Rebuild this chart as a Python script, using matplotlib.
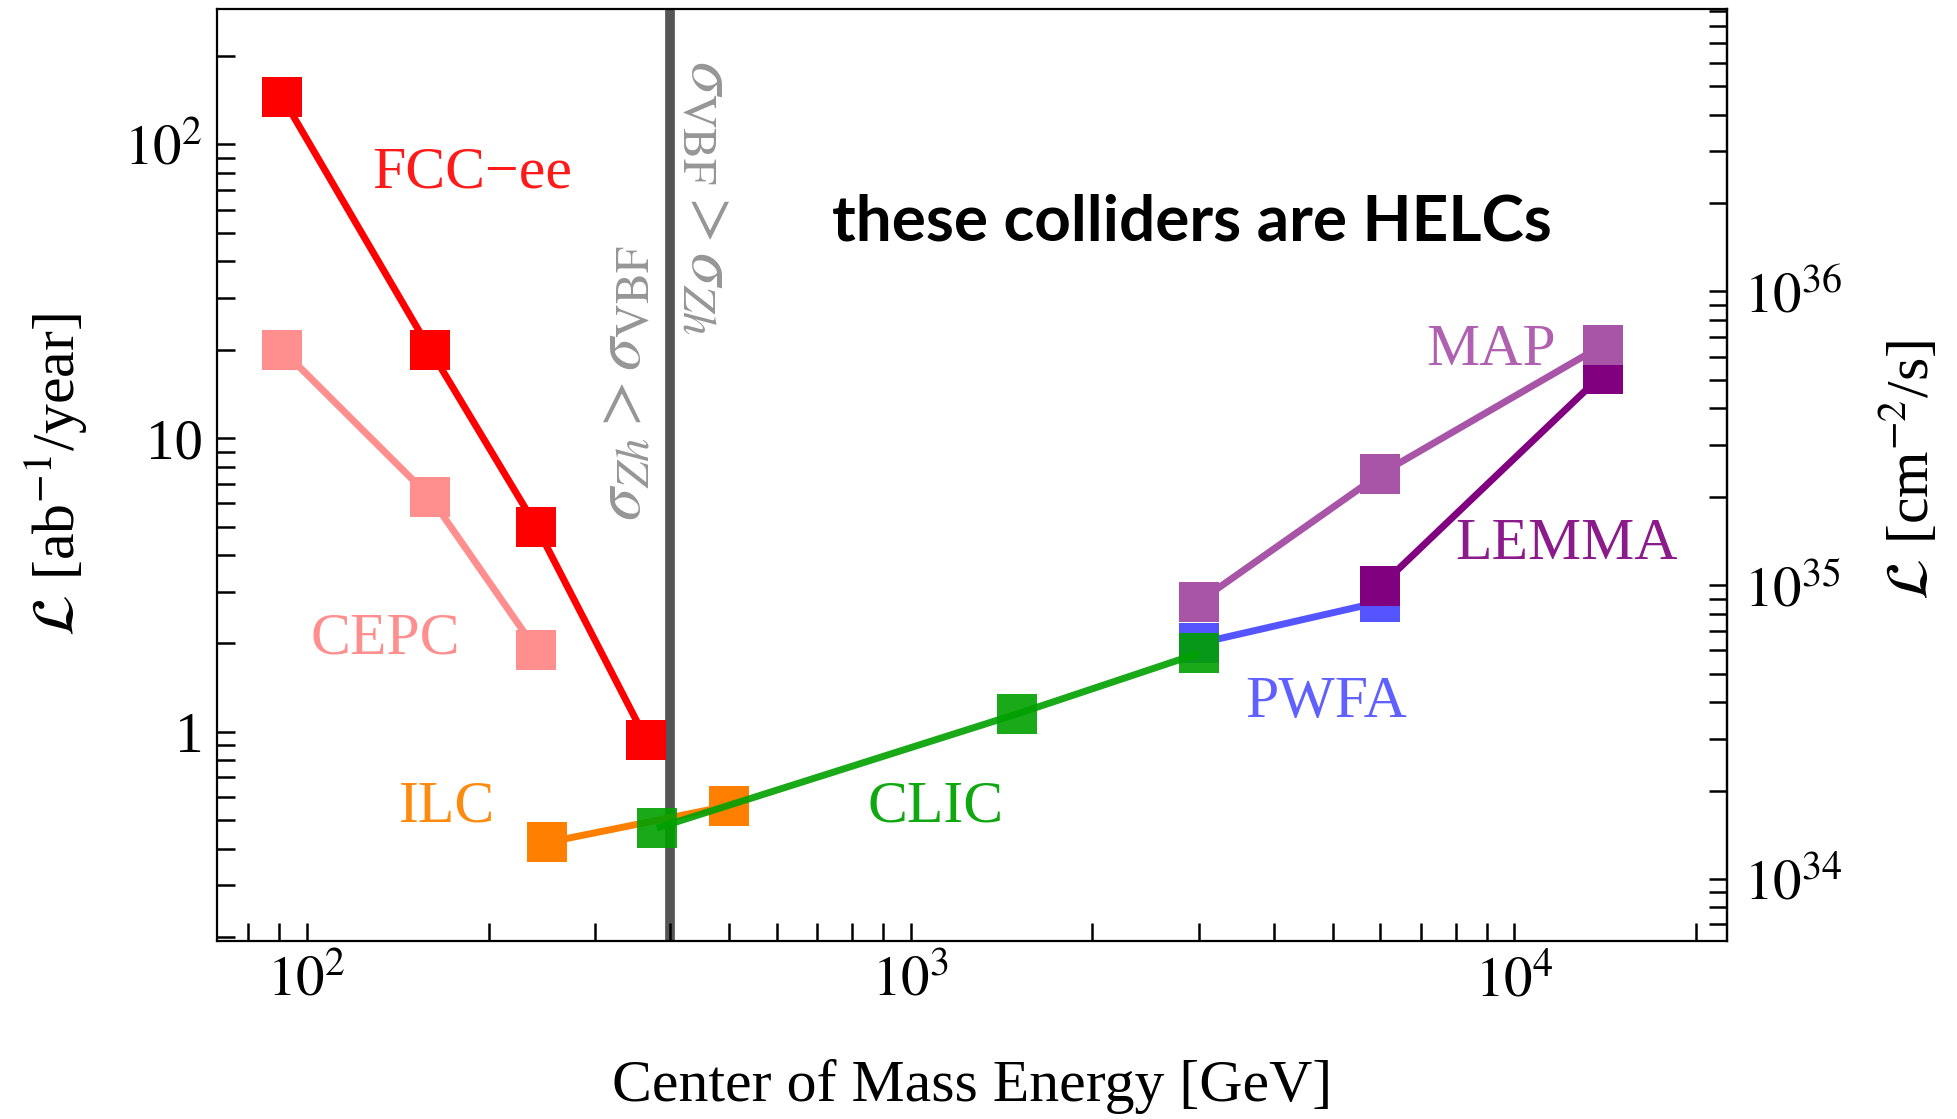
import math
import matplotlib
matplotlib.use("Agg")
import matplotlib.pyplot as plt
from matplotlib.ticker import LogLocator, FuncFormatter, NullFormatter, FixedLocator

plt.rcParams['font.family'] = ['Liberation Serif', 'DejaVu Serif']
plt.rcParams['mathtext.fontset'] = 'stix'

# ---- data (center-of-mass energy [GeV], luminosity [ab^-1/year]) ----
fcc_x = [91, 160, 240, 365]
fcc_y = [145, 20, 5.0, 0.94]

cepc_x = [91, 160, 240]
cepc_y = [20, 6.3, 1.9]

ilc_x = [250, 500]
ilc_y = [0.42, 0.56]

clic_x = [380, 1500, 3000]
clic_y = [0.47, 1.15, 1.85]

pwfa_x = [3000, 6000]
pwfa_y = [2.0, 2.77]

lemma_x = [6000, 14000]
lemma_y = [3.13, 16.5]

map_x = [3000, 6000, 14000]
map_y = [2.77, 7.55, 20.7]

threshold_x = 400  # sigma_Zh = sigma_VBF crossing

x_ticks = [1e2, 1e3, 1e4]
y_ticks = [1, 10, 100]
y_ticklabels = ['1', '10', r'$10^{2}$']
r_ticks = [1e34, 1e35, 1e36]

xlim = (71, 22500)
ylim = (0.194, 289)
conv = 1e42 / 3.156e7  # ab^-1/year -> cm^-2/s

fig = plt.figure(figsize=(19.57, 11.19), dpi=100)
ax = fig.add_axes([217/1957, 1 - 941/1119, 1510/1957, 932/1119])
ax.set_xscale('log')
ax.set_yscale('log')
ax.set_xlim(*xlim)
ax.set_ylim(*ylim)

ax.axvline(threshold_x, color='#555555', lw=7, zorder=1)

ms = 28.8
lw = 5
kw = dict(marker='s', ms=ms, mew=0, lw=lw, solid_capstyle='butt')
ax.plot(fcc_x, fcc_y, color='#FF0000', zorder=3, **kw)
ax.plot(cepc_x, cepc_y, color='#FF8F8F', zorder=2, **kw)
ax.plot(ilc_x, ilc_y, color='#FF8000', zorder=3, **kw)
ax.plot(pwfa_x, pwfa_y, color='#5555FF', zorder=3, **kw)
ax.plot(lemma_x, lemma_y, color='#800080', zorder=4, **kw)
ax.plot(map_x, map_y, color='#A855A8', zorder=5, **kw)
ax.plot(clic_x, clic_y, color='#00A000', alpha=0.9, zorder=6, **kw)

# ---- ticks ----
fs_tick = 41
tkw = dict(which='both', direction='in', length=13, width=1.8)
ax.tick_params(axis='x', top=False, pad=10, labelsize=fs_tick, **tkw)
ax.tick_params(axis='y', right=False, pad=10, labelsize=fs_tick, **tkw)
ax.xaxis.set_major_locator(FixedLocator(x_ticks))
ax.xaxis.set_major_formatter(FuncFormatter(lambda v, p: r'$10^{%d}$' % round(math.log10(v))))
ax.xaxis.set_minor_locator(LogLocator(base=10, subs=range(2, 10), numticks=20))
ax.xaxis.set_minor_formatter(NullFormatter())
ax.yaxis.set_major_locator(FixedLocator(y_ticks))
ax.set_yticklabels(y_ticklabels)
ax.yaxis.set_minor_locator(LogLocator(base=10, subs=range(2, 10), numticks=20))
ax.yaxis.set_minor_formatter(NullFormatter())

for s in ax.spines.values():
    s.set_linewidth(1.6)

sec = ax.secondary_yaxis('right', functions=(lambda y: y * conv, lambda y: y / conv))
sec.tick_params(which='both', direction='in', length=13, width=1.8, pad=12, labelsize=fs_tick)
sec.yaxis.set_major_locator(FixedLocator(r_ticks))
sec.yaxis.set_major_formatter(FuncFormatter(lambda v, p: r'$10^{%d}$' % round(math.log10(v))))
sec.yaxis.set_minor_locator(LogLocator(base=10, subs=range(2, 10), numticks=20))
sec.yaxis.set_minor_formatter(NullFormatter())
sec.spines['right'].set_linewidth(1.6)

# ---- axis labels ----
fs = 43
ax.text(0.5, -0.1556, 'Center of Mass Energy [GeV]', transform=ax.transAxes,
        ha='center', va='center', fontsize=fs)
ax.text(-0.107, 0.5, r'$\mathcal{L}$ [ab$^{-1}$/year]', transform=ax.transAxes,
        ha='center', va='center', rotation=90, fontsize=fs)
ax.text((1909 - 217) / 1510, 0.505, r'$\mathcal{L}$ [cm$^{-2}$/s]', transform=ax.transAxes,
        ha='center', va='center', rotation=90, fontsize=fs)

# ---- annotations ----
lab = dict(transform=ax.transAxes, ha='center', va='center', fontsize=fs)
ax.text(0.1689, 0.8235, 'FCC\u2212ee', color='#FF1A1A', **lab)
ax.text(0.1117, 0.323, 'CEPC', color='#FF8F8F', **lab)
ax.text(0.1522, 0.1432, 'ILC', color='#FF8A10', **lab)
ax.text(0.476, 0.1432, 'CLIC', color='#10A810', **lab)
ax.text(0.7348, 0.2558, 'PWFA', color='#6060FF', **lab)
ax.text(0.8437, 0.6334, 'MAP', color='#B060B0', **lab)
ax.text(0.8934, 0.4245, 'LEMMA', color='#8B1A8B', **lab)

ax.text(0.6457, 0.7715, 'these colliders are HELCs', transform=ax.transAxes,
        ha='center', va='center', fontsize=46, fontweight='bold',
        family=['Lato', 'DejaVu Sans'], color='black')

ax.text(0.2695, 0.599, r'$\sigma_{Zh} > \sigma_{\rm VBF}$', transform=ax.transAxes,
        ha='center', va='center', rotation=90, fontsize=48, color='#969696')
ax.text(0.3249, 0.798, r'$\sigma_{\rm VBF} > \sigma_{Zh}$', transform=ax.transAxes,
        ha='center', va='center', rotation=-90, fontsize=48, color='#969696')

fig.savefig('out.png', dpi=100)
